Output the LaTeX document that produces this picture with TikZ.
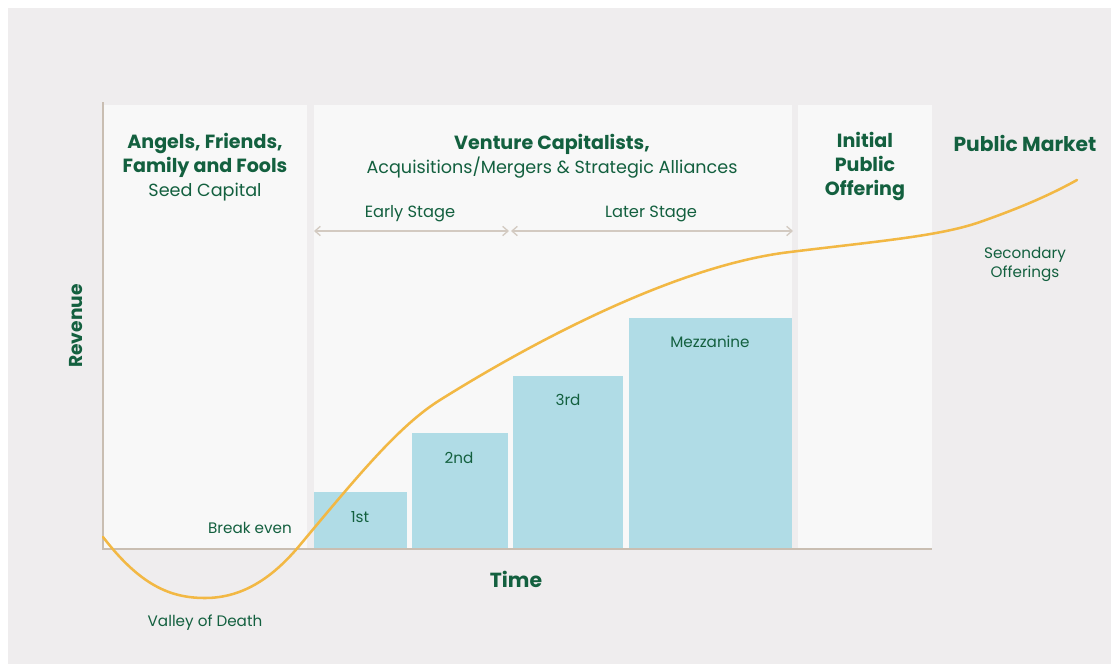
\documentclass[tikz,border=0pt]{standalone}
\usepackage{fontspec}
\setmainfont{Poppins}
\usetikzlibrary{positioning, arrows.meta}
\definecolor{fondo}{HTML}{EFEDEE}
\definecolor{panel}{HTML}{F8F8F8}
\definecolor{verde}{HTML}{13603F}
\definecolor{barra}{HTML}{B0DCE6}
\definecolor{curva}{HTML}{F2B844}
\definecolor{eje}{HTML}{C9BEB2}
\definecolor{flecha}{HTML}{D3CAC1}
\newcommand{\headbf}[1]{{\fontsize{14.3}{18}\selectfont\bfseries #1}}
\tikzset{Title style/.style={text=verde, align=center, font=\fontsize{13.2}{18}\selectfont}}
\tikzset{Label style/.style={text=verde, align=center, font=\fontsize{11.4}{14.3}\selectfont}}
\tikzset{Axis style/.style={text=verde, font=\bfseries\fontsize{14}{16}\selectfont}}
\tikzset{
	x=0.75pt, y=-0.75pt, % un pixel por unidad, eje y hacia abajo
	Stage arrow/.style={draw=flecha, line width=1pt, {Straight Barb[length=4pt, width=7pt]}-{Straight Barb[length=4pt, width=7pt]}},
}

\begin{document}
\begin{tikzpicture}
        \useasboundingbox (0,0) rectangle (1111,664);
        \fill[fondo] (8,8) rectangle (1111,664);

        % columnas
        \fill[panel] (103,105) rectangle (307,549);
        \fill[panel] (314,105) rectangle (792,549);
        \fill[panel] (798,105) rectangle (932,549);

        % rondas de financiacion
        \fill[barra] (314,492) rectangle (407,549);
        \fill[barra] (412,433) rectangle (508,549);
        \fill[barra] (513,376) rectangle (623,549);
        \fill[barra] (629,318) rectangle (792,549);

        % ejes
        \draw[eje, line width=2.2pt] (103,102) -- (103,549) -- (932,549);

        % curva de ingresos
        \draw[curva, line width=1.9pt, line cap=round]
              (103,537) .. controls (140,585) and (170,598) .. (205,598)
              .. controls (245,598) and (275,575) .. (300,545)
              .. controls (360,473) and (400,425) .. (440,400)
              .. controls (540,337.5) and (680,265) .. (790,252)
              .. controls (880,241) and (940,236) .. (980,222)
              .. controls (1020,208) and (1050,195) .. (1077,180);

        % etapas
        \coordinate (early_start) at (314,231);
        \coordinate (early_end) at (509,231);
        \coordinate (later_start) at (511,231);
        \coordinate (later_end) at (793,231);
        \draw[Stage arrow] (early_start) -- (early_end);
        \draw[Stage arrow] (later_start) -- (later_end);

        \node[Title style] (angels) at (205,167) {\headbf{Angels, Friends,}\\\headbf{Family and Fools}\\Seed Capital};
        \node[Title style] (venture) at (552,156) {\headbf{Venture Capitalists,}\\Acquisitions/Mergers \& Strategic Alliances};
        \node[Title style] (ipo) at (865,166) {\headbf{Initial}\\\headbf{Public}\\\headbf{Offering}};
        \node[Title style, font=\bfseries\fontsize{15.2}{18}\selectfont] (market) at (1025,143) {Public Market};
        \node[Label style] (secondary) at (1025,264) {Secondary\\Offerings};

        \node[Label style, font=\fontsize{12.2}{14}\selectfont] (early) at (410,214) {Early Stage};
        \node[Label style, font=\fontsize{12.2}{14}\selectfont] (later) at (651,214) {Later Stage};

        \node[Label style] (first) at (360,517) {1st};
        \node[Label style] (second) at (459,458) {2nd};
        \node[Label style] (third) at (568,400) {3rd};
        \node[Label style] (mezzanine) at (710,342) {Mezzanine};

        \node[Label style] (break_even) at (250,528) {Break even};
        \node[Label style] (valley) at (205,623) {Valley of Death};

        \node[Axis style, font=\bfseries\fontsize{15.3}{16}\selectfont] (time) at (516,579) {Time};
        \node[Axis style, rotate=90] (revenue) at (76,326) {Revenue};
\end{tikzpicture}
\end{document}
